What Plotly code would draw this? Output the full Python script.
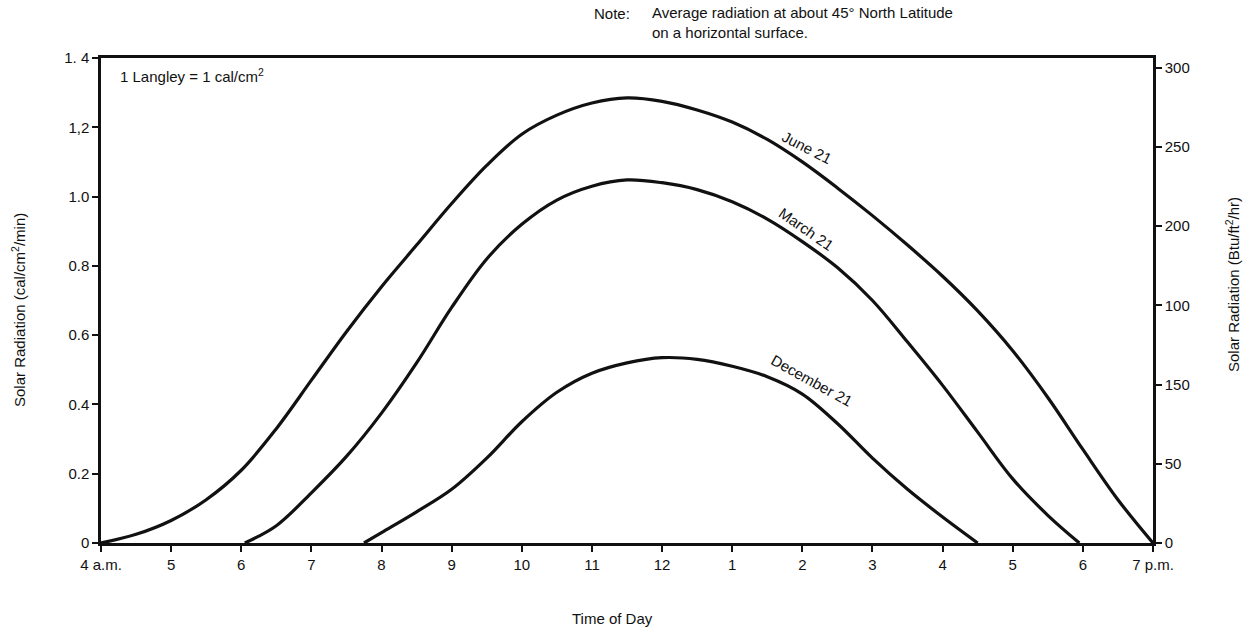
import plotly.graph_objects as go

# Solar radiation on a horizontal surface, ~45° N latitude (cal/cm²/min)
june_hours = [4, 4.5, 5, 5.5, 6, 6.5, 7, 7.5, 8, 8.5, 9, 9.5, 10, 10.5, 11, 11.5,
              12, 12.5, 13, 13.5, 14, 14.5, 15, 15.5, 16, 16.5, 17, 17.5, 18, 18.5, 19]
june_vals = [0, 0.025, 0.065, 0.125, 0.21, 0.33, 0.47, 0.61, 0.74, 0.86, 0.98, 1.09, 1.18,
             1.235, 1.27, 1.285, 1.275, 1.25, 1.215, 1.165, 1.10, 1.025, 0.945, 0.86, 0.77,
             0.67, 0.555, 0.42, 0.27, 0.125, 0]

march_hours = [6.05, 6.5, 7, 7.5, 8, 8.5, 9, 9.5, 10, 10.5, 11, 11.5, 12, 12.5, 13, 13.5,
               14, 14.5, 15, 15.5, 16, 16.5, 17, 17.5, 17.95]
march_vals = [0, 0.05, 0.145, 0.25, 0.375, 0.52, 0.68, 0.82, 0.92, 0.99, 1.03, 1.048, 1.04,
              1.02, 0.985, 0.935, 0.87, 0.795, 0.70, 0.58, 0.455, 0.32, 0.185, 0.08, 0]

dec_hours = [7.75, 8, 8.5, 9, 9.5, 10, 10.5, 11, 11.5, 12, 12.5, 13, 13.5, 14, 14.5, 15,
             15.5, 16, 16.5]
dec_vals = [0, 0.03, 0.09, 0.155, 0.245, 0.35, 0.435, 0.49, 0.52, 0.535, 0.53, 0.51, 0.48,
            0.43, 0.345, 0.245, 0.155, 0.075, 0]

x_tick_vals = list(range(4, 20))
x_tick_text = ["4 a.m.", "5", "6", "7", "8", "9", "10", "11", "12",
               "1", "2", "3", "4", "5", "6", "7 p.m."]
left_tick_vals = [0, 0.2, 0.4, 0.6, 0.8, 1.0, 1.2, 1.4]
left_tick_text = ["0", "0.2", "0.4", "0.6", "0.8", "1.0", "1,2", "1. 4"]
right_tick_vals = [0, 50, 100, 150, 200, 250, 300]
right_tick_text = ["0", "50", "150", "100", "200", "250", "300"]

# curve labels: (text, hour, value, angle)
curve_labels = [
    ("June 21", 13.98, 1.10, 27),
    ("March 21", 13.98, 0.865, 35),
    ("December 21", 14.05, 0.43, 29),
]

FONT = "Liberation Sans, Arial, sans-serif"
INK = "#111111"
FS = 15

fig = go.Figure()
for xs, ys in [(june_hours, june_vals), (march_hours, march_vals), (dec_hours, dec_vals)]:
    fig.add_trace(go.Scatter(
        x=xs, y=ys, mode="lines",
        line=dict(color=INK, width=3.2, shape="spline", smoothing=1.0),
        showlegend=False, hoverinfo="skip"))

# invisible trace to bring the Btu axis into the figure
fig.add_trace(go.Scatter(x=[4], y=[0], yaxis="y2", mode="markers",
                         marker=dict(opacity=0), showlegend=False, hoverinfo="skip"))

# labels sit just above their curves
for text, hx, hy, ang in curve_labels:
    fig.add_annotation(x=hx, y=hy, text=text, showarrow=False, textangle=ang,
                       xshift=6, yshift=14,
                       font=dict(family=FONT, size=FS, color=INK))

fig.add_annotation(xref="paper", yref="paper", x=(118 - 101) / 1052, y=(543 - 75) / 485,
                   xanchor="left", yanchor="middle", showarrow=False,
                   text="1 Langley = 1 cal/cm<sup>2</sup>",
                   font=dict(family=FONT, size=FS, color=INK))

fig.add_annotation(xref="paper", yref="paper", x=(592 - 101) / 1052, y=(543 - 13) / 485,
                   xanchor="left", yanchor="middle", showarrow=False, text="Note:",
                   font=dict(family=FONT, size=FS, color=INK))
fig.add_annotation(xref="paper", yref="paper", x=(650 - 101) / 1052, y=(543 - 22) / 485,
                   xanchor="left", yanchor="middle", showarrow=False, align="left",
                   text="Average radiation at about 45° North Latitude<br>on a horizontal surface.",
                   font=dict(family=FONT, size=FS, color=INK))

fig.add_annotation(xref="paper", yref="paper", x=(612 - 101) / 1052, y=(543 - 618) / 485,
                   xanchor="center", yanchor="middle", showarrow=False, text="Time of Day",
                   font=dict(family=FONT, size=FS, color=INK))
fig.add_annotation(xref="paper", yref="paper", x=(18 - 101) / 1052, y=(543 - 310) / 485,
                   xanchor="center", yanchor="middle", showarrow=False, textangle=-90,
                   text="Solar Radiation (cal/cm<sup>2</sup>/min)",
                   font=dict(family=FONT, size=FS, color=INK))
fig.add_annotation(xref="paper", yref="paper", x=(1232 - 101) / 1052, y=(543 - 285) / 485,
                   xanchor="center", yanchor="middle", showarrow=False, textangle=-90,
                   text="Solar Radiation (Btu/ft<sup>2</sup>/hr)",
                   font=dict(family=FONT, size=FS, color=INK))

fig.update_layout(
    width=1251, height=642,
    margin=dict(l=101, r=98, t=58, b=99),
    paper_bgcolor="white", plot_bgcolor="white",
    font=dict(family=FONT, size=FS, color=INK),
    xaxis=dict(range=[4, 19], tickvals=x_tick_vals, ticktext=x_tick_text,
               showgrid=False, zeroline=False, showline=True, linecolor=INK, linewidth=2.5,
               mirror=True, ticks="outside", ticklen=6, tickwidth=2, tickcolor=INK),
    yaxis=dict(range=[0, 1.4], tickvals=left_tick_vals, ticktext=left_tick_text,
               showgrid=False, zeroline=False, showline=True, linecolor=INK, linewidth=2.5,
               ticks="outside", ticklen=6, tickwidth=2, tickcolor=INK),
    yaxis2=dict(range=[0, 306], overlaying="y", side="right",
                tickvals=right_tick_vals, ticktext=right_tick_text,
                showgrid=False, zeroline=False, showline=True, linecolor=INK, linewidth=2.5,
                ticks="outside", ticklen=6, tickwidth=2, tickcolor=INK),
)

fig.write_html("out.html")
